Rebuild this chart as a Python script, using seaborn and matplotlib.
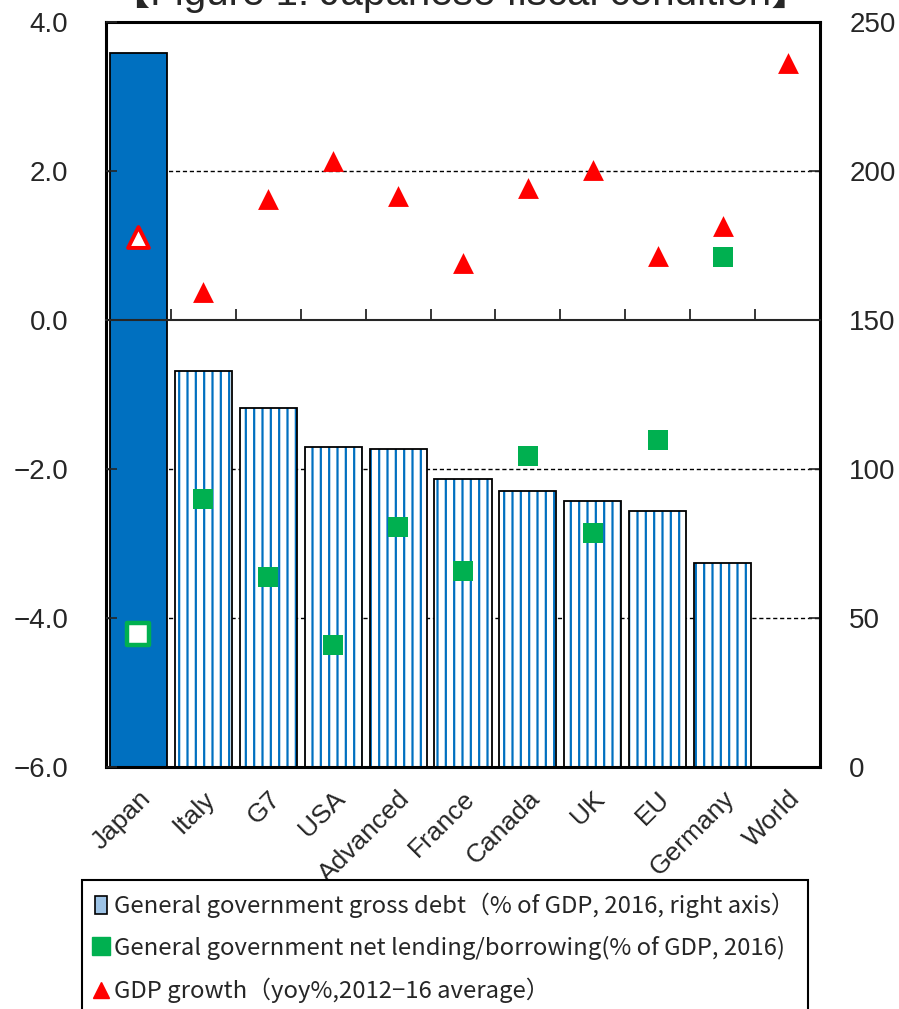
import numpy as np
import pandas as pd
import matplotlib
matplotlib.use("Agg")
import matplotlib.pyplot as plt
import seaborn as sns
from matplotlib.patches import Patch
from matplotlib.lines import Line2D

# ------------------------------
# Data
# ------------------------------
countries = ["Japan", "Italy", "G7", "USA", "Advanced", "France",
             "Canada", "UK", "EU", "Germany", "World"]
gross_debt = [239.5, 133.0, 120.5, 107.3, 106.6, 96.8, 92.5, 89.4, 85.8, 68.6, 0.0]
net_lending = [-4.22, -2.40, -3.45, -4.36, -2.78, -3.37, -1.82, -2.86, -1.61, 0.85, np.nan]
gdp_growth = [1.12, 0.37, 1.62, 2.13, 1.67, 0.77, 1.77, 2.01, 0.86, 1.26, 3.45]

left_ticks = [4.0, 2.0, 0.0, -2.0, -4.0, -6.0]
right_ticks = [250, 200, 150, 100, 50, 0]

df = pd.DataFrame({"country": countries, "debt": gross_debt,
                   "net": net_lending, "growth": gdp_growth})

blue = "#0070C0"
green = "#00B050"
red = "#FF0000"

sns.set_style("white")
plt.rcParams["font.family"] = ["Liberation Sans", "DejaVu Sans"]
plt.rcParams["hatch.linewidth"] = 1.6
plt.rcParams["hatch.color"] = blue

fig = plt.figure(figsize=(8.99, 10.09), dpi=100)
ax = fig.add_axes([0.1179, 0.2398, 0.7942, 0.7384])

# ------------------------------
# Bars: gross debt (right axis)
# ------------------------------
sns.barplot(data=df, x="country", y="debt", order=countries, hue="country",
            palette=[blue] + ["white"] * (len(countries) - 1), legend=False,
            width=0.88, edgecolor=blue, linewidth=0, saturation=1, ax=ax)
for p, c in zip(ax.patches, countries):
    if c != "Japan":
        p.set_hatch("||")
sns.barplot(data=df, x="country", y="debt", order=countries, fill=False,
            color="black", width=0.88, linewidth=1.3, errorbar=None, ax=ax)

for y in [200, 100, 50]:
    ax.axhline(y, color="black", lw=1.0, ls=(0, (3, 2)), zorder=0)
for s in ax.spines.values():
    s.set_linewidth(2.2)
    s.set_color("black")

# ------------------------------
# Markers (left axis)
# ------------------------------
ax2 = ax.twinx()
sns.stripplot(data=df, x="country", y="net", order=countries, jitter=False,
              marker="s", size=14, color=green, linewidth=0, ax=ax2)
sns.stripplot(data=df, x="country", y="growth", order=countries, jitter=False,
              marker="^", size=15, color=red, linewidth=0, ax=ax2)

# Japan markers: white inside, coloured outline
for coll in ax2.collections:
    offs = coll.get_offsets()
    if len(offs) == 0:
        continue
    base = coll.get_facecolor()[0].copy()
    is_green = base[1] > base[0]
    default = coll.get_sizes()[0]
    faces, lws, sizes = [], [], []
    for xy in offs:
        if abs(xy[0]) < 0.01:
            faces.append((1, 1, 1, 1))
            lws.append(3.2 if is_green else 2.8)
            sizes.append(default * (1.35 if is_green else 1.0))
        else:
            faces.append(base)
            lws.append(0.0)
            sizes.append(default)
    coll.set_facecolor(faces)
    coll.set_edgecolor([base] * len(offs))
    coll.set_linewidths(lws)
    coll.set_sizes(sizes)
    coll.set_zorder(5)

ax2.set_ylim(-6, 4)
ax2.set_xlim(-0.5, len(countries) - 0.5)
ax2.yaxis.tick_left()
ax2.set_yticks(left_ticks)
ax2.set_yticklabels([f"{v:.1f}".replace("-", "\u2212") for v in left_ticks])
ax2.tick_params(axis="y", direction="in", length=8, width=1.2, pad=27,
                labelsize=20, left=True, right=False,
                labelleft=True, labelright=False)
ax2.set_ylabel("")
ax2.set_xlabel("")

# right axis for the bars (set after twinx, which moves ticks left)
ax.set_ylim(0, 250)
ax.set_xlim(-0.5, len(countries) - 0.5)
ax.yaxis.tick_right()
ax.set_yticks(right_ticks)
ax.set_yticklabels([str(v) for v in right_ticks])
ax.tick_params(axis="y", direction="in", length=8, width=1.2, pad=21,
               labelsize=20, right=True, left=False,
               labelright=True, labelleft=False)
ax.set_xticks(range(len(countries)))
ax.set_xticklabels(countries, rotation=45, ha="right", rotation_mode="anchor",
                   fontsize=19)
ax.tick_params(axis="x", length=0, pad=14)
ax.set_xlabel("")
ax.set_ylabel("")

# zero line with upward ticks between categories
ax2.xaxis.set_visible(True)
ax2.spines["bottom"].set_position(("data", 0))
ax2.spines["bottom"].set_linewidth(1.5)
for k in ["top", "left", "right"]:
    ax2.spines[k].set_visible(False)
ax2.set_xticks(np.arange(len(countries) - 1) + 0.5, minor=True)
ax2.tick_params(axis="x", which="major", length=0, labelbottom=False)
ax2.tick_params(axis="x", which="minor", direction="in", length=8, width=1.3,
                bottom=True)
ax.tick_params(axis="x", which="minor", length=0)

# ------------------------------
# Title and legend
# ------------------------------
fig.text(0.512, 0.9955, "【Figure 1: Japanese fiscal condition】", ha="center",
         va="baseline", fontsize=29,
         family=["Liberation Sans", "Noto Sans CJK JP", "DejaVu Sans"])

handles = [
    Patch(facecolor="#9DC3E6", edgecolor="black", linewidth=1.2),
    Line2D([], [], marker="s", color=green, ls="none", markersize=13),
    Line2D([], [], marker="^", color=red, ls="none", markersize=12),
]
labels = [
    "General government gross debt（% of GDP, 2016, right axis）",
    "General government net lending/borrowing(% of GDP, 2016)",
    "GDP growth（yoy%,2012−16 average）",
]
leg = fig.legend(handles, labels, loc="upper left",
                 bbox_to_anchor=(0.091, 0.128), frameon=True, fancybox=False,
                 edgecolor="black", framealpha=1, handlelength=0.5,
                 handleheight=0.8, handletextpad=0.3, labelspacing=0.74,
                 borderpad=0.55, borderaxespad=0,
                 prop={"family": ["Noto Sans CJK JP", "DejaVu Sans"], "size": 17.2})
leg.get_frame().set_linewidth(1.5)

fig.savefig("out.png", dpi=100)
